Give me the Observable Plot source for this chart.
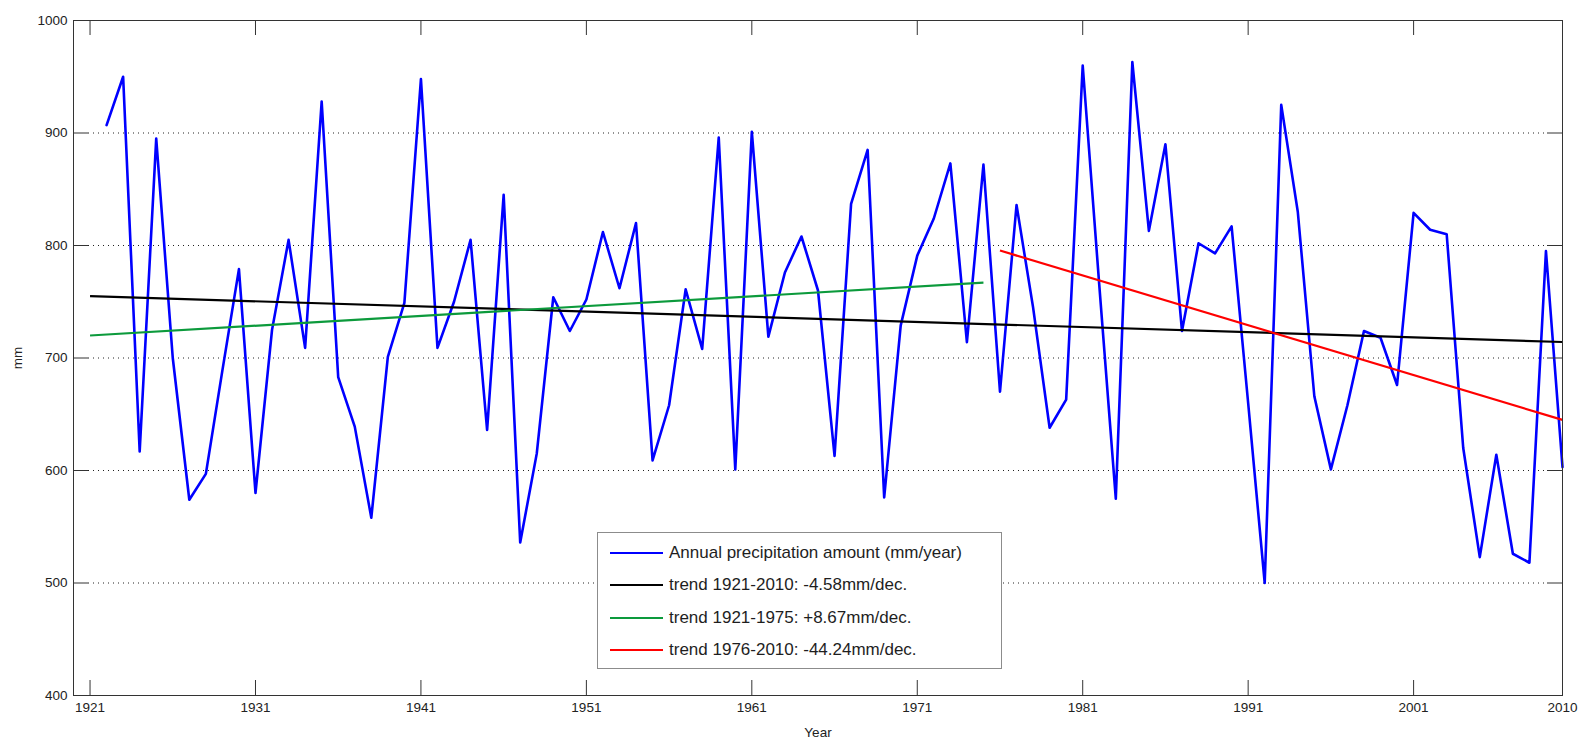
<!DOCTYPE html>
<html><head><meta charset="utf-8">
<script src="https://cdn.jsdelivr.net/npm/d3@7"></script>
<script src="https://cdn.jsdelivr.net/npm/@observablehq/plot@0.6"></script>
<style>
body{margin:0;background:#fff;font-family:"Liberation Sans",Arial,sans-serif;}
#wrap{position:relative;width:1580px;height:742px;}
#legend{position:absolute;left:597px;top:532px;width:405px;height:137px;border:1px solid #8c8c8c;background:#fff;box-sizing:border-box;}
.row{position:absolute;left:12px;height:22px;line-height:22px;display:flex;align-items:center;font-size:17px;color:#1e1e1e;white-space:nowrap;}
.row .sw{display:inline-block;width:53px;height:0;border-top:2.5px solid;margin-right:6px;}
</style></head>
<body><div id="wrap"><div id="chart"></div><div id="legend"></div></div>
<script>
const years = [1922,1923,1924,1925,1926,1927,1928,1929,1930,1931,
  1932,1933,1934,1935,1936,1937,1938,1939,1940,1941,
  1942,1943,1944,1945,1946,1947,1948,1949,1950,1951,
  1952,1953,1954,1955,1956,1957,1958,1959,1960,1961,
  1962,1963,1964,1965,1966,1967,1968,1969,1970,1971,
  1972,1973,1974,1975,1976,1977,1978,1979,1980,1981,
  1982,1983,1984,1985,1986,1987,1988,1989,1990,1991,
  1992,1993,1994,1995,1996,1997,1998,1999,2000,2001,
  2002,2003,2004,2005,2006,2007,2008,2009,2010];
const precip = [907,950,617,895,700,574,597,689,779,580,
  725,805,709,928,683,639,558,701,749,948,
  709,750,805,636,845,536,615,754,724,752,
  812,762,820,609,658,761,708,896,601,901,
  719,776,808,760,613,837,885,576,729,791,
  824,873,714,872,670,836,745,638,663,960,
  765,575,963,813,890,724,802,793,817,660,
  500,925,830,666,601,658,724,718,676,829,
  814,810,620,523,614,526,518,795,603];

const seriesName = "Annual precipitation amount (mm/year)";
const trendNames = ["trend 1921-2010: -4.58mm/dec.", "trend 1921-1975: +8.67mm/dec.", "trend 1976-2010: -44.24mm/dec."];
const trendStartYear = [1921, 1921, 1976];
const trendEndYear = [2010, 1975, 2010];
const trendStartValue = [755, 720, 795.5];
const trendEndValue = [714.2, 767, 645];
const trendColors = ["#000000", "#0c9a3c", "#ff0000"];
const seriesColor = "#0000ff";

const xTicks = [1921,1931,1941,1951,1961,1971,1981,1991,2001,2010];
const yTicks = [400,500,600,700,800,900,1000];
const gridValues = [500,600,700,800,900];

const W = 1580, H = 742, mL = 73, mR = 18, mT = 20, mB = 47;
const innerW = W - mL - mR, innerH = H - mT - mB, tickLen = 15;

const series = years.map((y, i) => ({year: y, value: precip[i]}));
const trends = trendNames.map((n, i) => ({name: n, x1: trendStartYear[i], x2: trendEndYear[i], y1: trendStartValue[i], y2: trendEndValue[i], color: trendColors[i]}));

const chart = Plot.plot({
  width: W, height: H,
  marginLeft: mL, marginRight: mR, marginTop: mT, marginBottom: mB,
  style: {fontFamily: "'Liberation Sans', Arial, sans-serif", fontSize: "13.5px", color: "#222", background: "#fff"},
  x: {domain: [1920, 2010]},
  y: {domain: [400, 1000]},
  marks: [
    Plot.ruleY(gridValues, {y: d => d, stroke: "#222", strokeDasharray: "1,4", insetLeft: tickLen, insetRight: tickLen}),
    Plot.line(series, {x: "year", y: "value", stroke: seriesColor, strokeWidth: 2.6}),
    Plot.link(trends, {x1: "x1", y1: "y1", x2: "x2", y2: "y2", stroke: "color", strokeWidth: 2.2}),
    Plot.tickX(xTicks, {x: d => d, insetTop: innerH - tickLen, stroke: "#333"}),
    Plot.tickX(xTicks, {x: d => d, insetBottom: innerH - tickLen, stroke: "#333"}),
    Plot.tickY(yTicks, {y: d => d, insetRight: innerW - tickLen, stroke: "#333"}),
    Plot.tickY(yTicks, {y: d => d, insetLeft: innerW - tickLen, stroke: "#333"}),
    Plot.frame({stroke: "#333"}),
    Plot.axisX(xTicks, {tickSize: 0, tickPadding: 7, tickFormat: d => `${d}`, label: "Year", labelAnchor: "center", labelOffset: 41, labelArrow: "none"}),
    Plot.axisY(yTicks, {tickSize: 0, tickPadding: 6, tickFormat: d => `${d}`, label: "mm", labelAnchor: "center", labelOffset: 61, labelArrow: "none"})
  ]
});
document.getElementById("chart").appendChild(chart);

const legend = document.getElementById("legend");
const entries = [{name: seriesName, color: seriesColor}].concat(trends.map(t => ({name: t.name, color: t.color})));
const rowCenters = [20, 52, 85, 117];
entries.forEach((e, i) => {
  const row = document.createElement("div");
  row.className = "row";
  row.style.top = (rowCenters[i] - 11) + "px";
  const sw = document.createElement("span");
  sw.className = "sw";
  sw.style.borderTopColor = e.color;
  const tx = document.createElement("span");
  tx.textContent = e.name;
  row.appendChild(sw); row.appendChild(tx);
  legend.appendChild(row);
});
</script>
</body></html>
